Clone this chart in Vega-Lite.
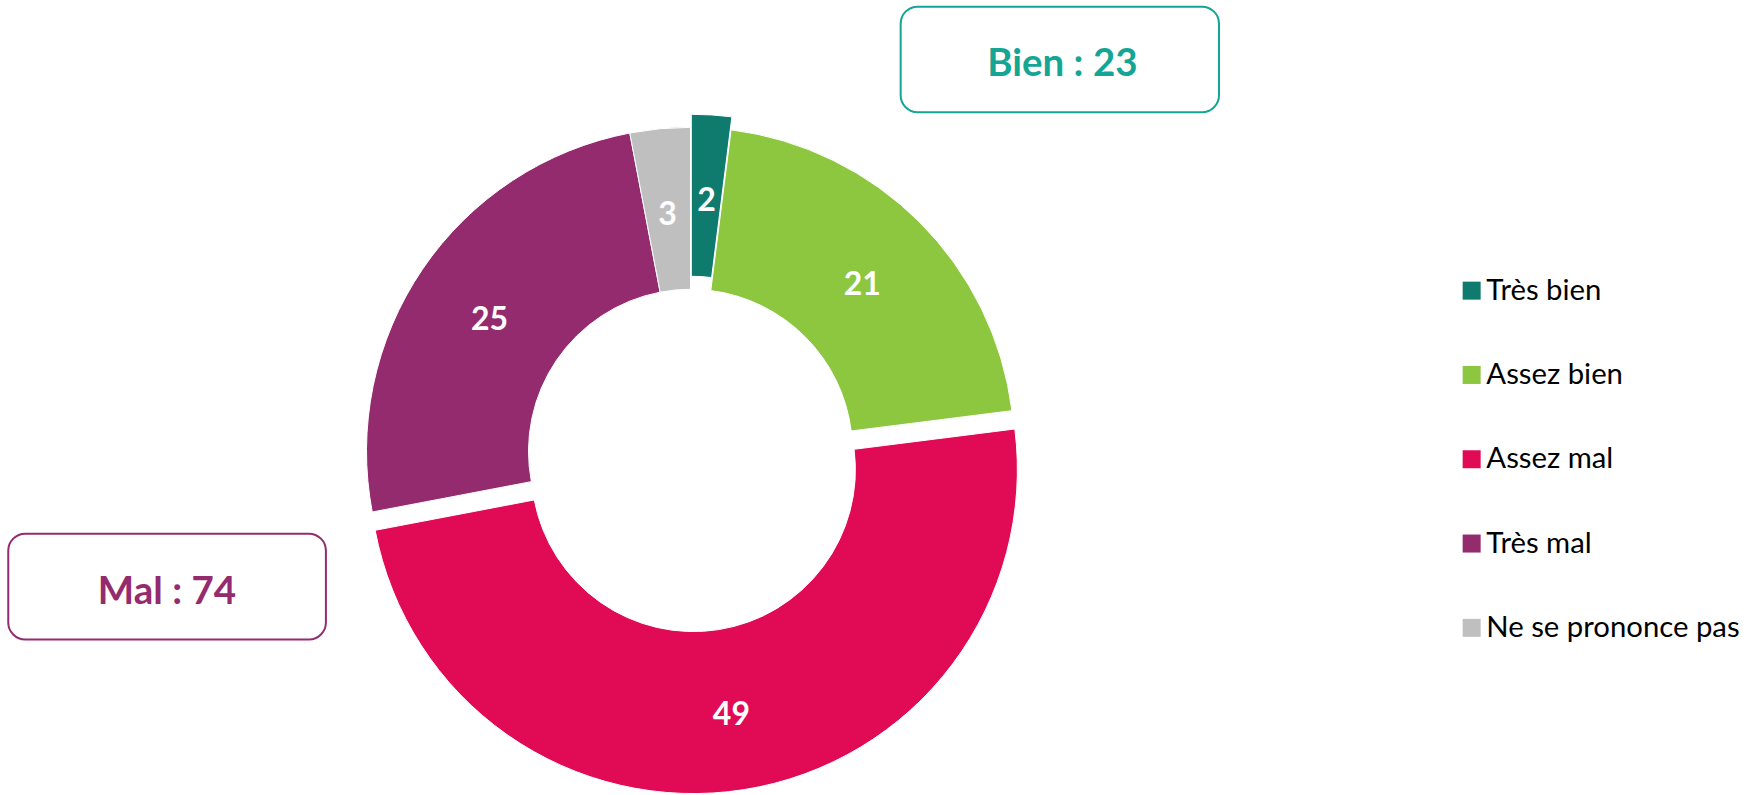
{
  "$schema": "https://vega.github.io/schema/vega-lite/v6.json",
  "width": 1756,
  "height": 795,
  "autosize": {"type": "fit", "contains": "padding"},
  "padding": 0,
  "background": "#ffffff",
  "config": {"view": {"stroke": null}, "font": "Lato"},
  "layer": [
    {
      "data": {"values": [
        {"categorie": "Très bien", "valeur": 2, "rang": 1},
        {"categorie": "Assez bien", "valeur": 21, "rang": 2},
        {"categorie": "Assez mal", "valeur": 49, "rang": 3},
        {"categorie": "Très mal", "valeur": 25, "rang": 4},
        {"categorie": "Ne se prononce pas", "valeur": 3, "rang": 5}
      ]},
      "encoding": {
        "theta": {"field": "valeur", "type": "quantitative", "stack": true},
        "order": {"field": "rang", "type": "quantitative"},
        "x": {"datum": 39.322, "type": "quantitative", "scale": {"domain": [0, 100], "nice": false, "zero": false}, "axis": null},
        "y": {"datum": 56.981, "type": "quantitative", "scale": {"domain": [0, 100], "nice": false, "zero": false, "reverse": true}, "axis": null}
      },
      "layer": [
        {
          "mark": {
            "type": "arc",
            "innerRadius": 162,
            "outerRadius": 324,
            "stroke": "#ffffff",
            "strokeWidth": 1,
            "xOffset": {"expr": "datum.categorie === 'Très bien' ? 0.8 : (datum.categorie === 'Assez mal' ? 2.9 : 0)"},
            "yOffset": {"expr": "datum.categorie === 'Très bien' ? -13 : (datum.categorie === 'Assez mal' ? 18.3 : 0)"}
          },
          "encoding": {
            "color": {
              "field": "categorie",
              "type": "nominal",
              "scale": {
                "domain": ["Très bien", "Assez bien", "Assez mal", "Très mal", "Ne se prononce pas"],
                "range": ["#0E7B6E", "#8DC63F", "#E00A55", "#952B6F", "#BFBFBF"]
              },
              "legend": {
                "title": null,
                "orient": "none",
                "legendX": 1457,
                "legendY": 276,
                "padding": 0,
                "symbolType": "square",
                "symbolSize": 324,
                "symbolStrokeWidth": 0,
                "symbolOpacity": 1,
                "labelFont": "Lato",
                "labelFontSize": 29.3,
                "labelColor": "#000000",
                "labelOffset": 0,
                "labelLimit": 400,
                "rowPadding": 54.3
              }
            }
          }
        },
        {
          "mark": {
            "type": "text",
            "radius": 243,
            "font": "Lato",
            "fontSize": 32,
            "fontWeight": "bold",
            "color": "#ffffff",
            "align": "center",
            "baseline": "middle",
            "dy": 5.5,
            "xOffset": {"expr": "datum.categorie === 'Très bien' ? 0.8 : (datum.categorie === 'Assez mal' ? 2.9 : 0)"},
            "yOffset": {"expr": "datum.categorie === 'Très bien' ? -13 : (datum.categorie === 'Assez mal' ? 18.3 : 0)"}
          },
          "encoding": {
            "text": {"field": "valeur", "type": "quantitative"}
          }
        }
      ]
    },
    {
      "data": {"values": [{"groupe": "Bien", "total": 23, "libelle": "Bien : 23"}]},
      "layer": [
        {
          "mark": {"type": "rect", "fill": "#ffffff", "stroke": "#14A595", "strokeWidth": 2, "cornerRadius": 17},
          "encoding": {
            "x": {"datum": 51.29, "type": "quantitative"},
            "x2": {"datum": 69.42},
            "y": {"datum": 0.84, "type": "quantitative"},
            "y2": {"datum": 14.18}
          }
        },
        {
          "mark": {"type": "text", "font": "Lato", "fontSize": 38.5, "fontWeight": "bold", "color": "#14A595", "align": "center", "baseline": "middle", "dy": 4.5},
          "encoding": {
            "x": {"datum": 60.5, "type": "quantitative"},
            "y": {"datum": 7.55, "type": "quantitative"},
            "text": {"field": "libelle", "type": "nominal"}
          }
        }
      ]
    },
    {
      "data": {"values": [{"groupe": "Mal", "total": 74, "libelle": "Mal : 74"}]},
      "layer": [
        {
          "mark": {"type": "rect", "fill": "#ffffff", "stroke": "#952B6F", "strokeWidth": 2, "cornerRadius": 17},
          "encoding": {
            "x": {"datum": 0.47, "type": "quantitative"},
            "x2": {"datum": 18.56},
            "y": {"datum": 67.38, "type": "quantitative"},
            "y2": {"datum": 80.75}
          }
        },
        {
          "mark": {"type": "text", "font": "Lato", "fontSize": 38.5, "fontWeight": "bold", "color": "#952B6F", "align": "center", "baseline": "middle", "dy": 5},
          "encoding": {
            "x": {"datum": 9.51, "type": "quantitative"},
            "y": {"datum": 74.15, "type": "quantitative"},
            "text": {"field": "libelle", "type": "nominal"}
          }
        }
      ]
    }
  ]
}
